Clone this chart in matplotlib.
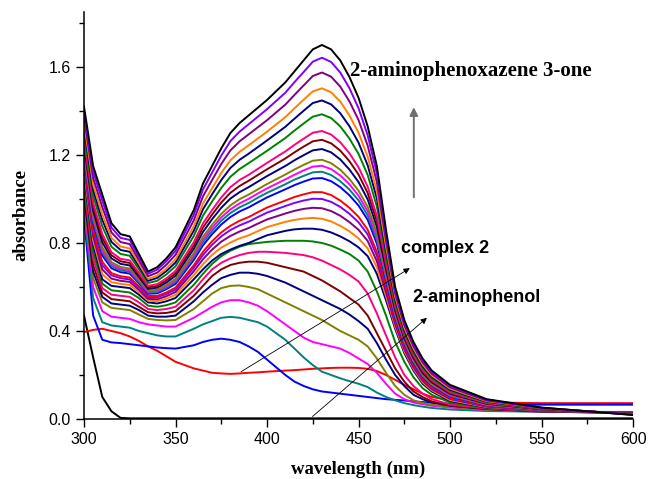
import matplotlib
matplotlib.use("Agg")
import matplotlib.pyplot as plt
from matplotlib.ticker import MultipleLocator

# wavelength grid (nm) shared by every scan
wl = [300, 305, 310, 315, 320, 325, 330, 335, 340, 345,
      350, 360, 365, 370, 375, 380, 385, 390, 395, 400,
      410, 415, 420, 425, 430, 435, 440, 445, 450,
      455, 460, 465, 470, 475, 480, 485,
      490, 500, 520, 550, 600]

# absorbance, bottom scan first
aminophenol = [0.47, 0.28, 0.10, 0.035, 0.005] + [0.003] * 36
complex2 = [0.395, 0.405, 0.41, 0.40, 0.39, 0.375, 0.355, 0.33, 0.31, 0.285,
            0.26, 0.23, 0.22, 0.21, 0.207, 0.205, 0.207, 0.21, 0.212, 0.215,
            0.22, 0.222, 0.225, 0.228, 0.23, 0.232, 0.233, 0.233, 0.232,
            0.228, 0.218, 0.20, 0.178, 0.155, 0.135, 0.115,
            0.10, 0.085, 0.075, 0.072, 0.072]
s03 = [0.92, 0.47, 0.36, 0.348, 0.345, 0.34, 0.335, 0.33, 0.325, 0.322,
       0.32, 0.335, 0.35, 0.36, 0.365, 0.36, 0.35, 0.33, 0.305, 0.27,
       0.20, 0.17, 0.15, 0.135, 0.125, 0.12, 0.115, 0.11, 0.105,
       0.10, 0.095, 0.09, 0.087, 0.084, 0.08, 0.077,
       0.074, 0.069, 0.065, 0.065, 0.065]
s04 = [0.95, 0.55, 0.44, 0.425, 0.42, 0.415, 0.40, 0.39, 0.38, 0.375,
       0.375, 0.41, 0.43, 0.445, 0.46, 0.464, 0.46, 0.45, 0.44, 0.42,
       0.36, 0.32, 0.28, 0.245, 0.215, 0.20, 0.185, 0.172, 0.16,
       0.145, 0.12, 0.10, 0.085, 0.072, 0.063, 0.056,
       0.05, 0.043, 0.036, 0.033, 0.032]
s05 = [0.98, 0.60, 0.49, 0.465, 0.46, 0.455, 0.44, 0.43, 0.425, 0.42,
       0.42, 0.46, 0.485, 0.51, 0.53, 0.54, 0.54, 0.53, 0.515, 0.49,
       0.43, 0.40, 0.37, 0.35, 0.34, 0.33, 0.32, 0.30, 0.275,
       0.25, 0.21, 0.16, 0.115, 0.09, 0.075, 0.067,
       0.06, 0.052, 0.04, 0.033, 0.028]
s06 = [1.00, 0.64, 0.53, 0.505, 0.50, 0.495, 0.475, 0.455, 0.45, 0.448,
       0.45, 0.50, 0.535, 0.57, 0.595, 0.605, 0.607, 0.60, 0.59, 0.57,
       0.53, 0.51, 0.49, 0.47, 0.45, 0.425, 0.40, 0.38, 0.36,
       0.33, 0.275, 0.21, 0.15, 0.11, 0.085, 0.073,
       0.065, 0.055, 0.042, 0.033, 0.028]
s07 = [1.02, 0.67, 0.555, 0.525, 0.52, 0.515, 0.495, 0.47, 0.465, 0.465,
       0.47, 0.535, 0.575, 0.61, 0.64, 0.655, 0.665, 0.665, 0.66, 0.65,
       0.62, 0.60, 0.58, 0.56, 0.54, 0.52, 0.50, 0.475, 0.445,
       0.41, 0.345, 0.27, 0.20, 0.15, 0.11, 0.09,
       0.075, 0.06, 0.045, 0.034, 0.027]
s08 = [1.04, 0.70, 0.575, 0.545, 0.54, 0.535, 0.51, 0.485, 0.48, 0.482,
       0.49, 0.56, 0.605, 0.65, 0.68, 0.70, 0.71, 0.715, 0.715, 0.71,
       0.69, 0.68, 0.67, 0.65, 0.63, 0.605, 0.58, 0.55, 0.52,
       0.47, 0.39, 0.31, 0.23, 0.17, 0.125, 0.10,
       0.08, 0.062, 0.046, 0.035, 0.027]
s09 = [1.06, 0.73, 0.595, 0.565, 0.56, 0.555, 0.53, 0.50, 0.495, 0.50,
       0.51, 0.585, 0.635, 0.68, 0.71, 0.73, 0.745, 0.755, 0.76, 0.76,
       0.755, 0.75, 0.745, 0.735, 0.72, 0.70, 0.68, 0.655, 0.625,
       0.57, 0.48, 0.38, 0.28, 0.20, 0.15, 0.115,
       0.09, 0.066, 0.048, 0.036, 0.028]
s10 = [1.09, 0.76, 0.615, 0.585, 0.58, 0.575, 0.55, 0.515, 0.51, 0.517,
       0.53, 0.61, 0.66, 0.705, 0.74, 0.765, 0.783, 0.795, 0.80, 0.805,
       0.81, 0.81, 0.81, 0.807, 0.80, 0.788, 0.77, 0.75, 0.72,
       0.67, 0.58, 0.47, 0.35, 0.26, 0.19, 0.14,
       0.11, 0.075, 0.05, 0.037, 0.028]
s11 = [1.11, 0.79, 0.635, 0.605, 0.60, 0.595, 0.565, 0.53, 0.525, 0.535,
       0.55, 0.635, 0.68, 0.72, 0.75, 0.77, 0.787, 0.80, 0.818, 0.835,
       0.855, 0.862, 0.865, 0.865, 0.86, 0.848, 0.83, 0.808, 0.78,
       0.74, 0.66, 0.54, 0.41, 0.30, 0.22, 0.16,
       0.125, 0.082, 0.052, 0.038, 0.028]
s12 = [1.129, 0.812, 0.658, 0.622, 0.614, 0.609, 0.576, 0.538, 0.535, 0.547,
       0.564, 0.654, 0.703, 0.746, 0.779, 0.802, 0.821, 0.835, 0.854, 0.872,
       0.896, 0.905, 0.911, 0.914, 0.910, 0.898, 0.878, 0.853, 0.821,
       0.775, 0.689, 0.559, 0.421, 0.309, 0.228, 0.167,
       0.131, 0.086, 0.054, 0.039, 0.027]
s13 = [1.146, 0.832, 0.680, 0.638, 0.628, 0.623, 0.587, 0.546, 0.544, 0.558,
       0.577, 0.672, 0.726, 0.770, 0.806, 0.832, 0.852, 0.868, 0.888, 0.907,
       0.934, 0.946, 0.955, 0.960, 0.958, 0.945, 0.924, 0.895, 0.860,
       0.809, 0.717, 0.577, 0.432, 0.318, 0.235, 0.174,
       0.136, 0.091, 0.056, 0.040, 0.027]
s14 = [1.162, 0.850, 0.699, 0.653, 0.640, 0.634, 0.596, 0.553, 0.553, 0.568,
       0.588, 0.688, 0.745, 0.792, 0.830, 0.859, 0.880, 0.897, 0.918, 0.938,
       0.968, 0.982, 0.993, 1.001, 1.000, 0.987, 0.964, 0.933, 0.894,
       0.839, 0.742, 0.593, 0.442, 0.325, 0.242, 0.179,
       0.141, 0.094, 0.058, 0.040, 0.026]
s15 = [1.173, 0.863, 0.714, 0.663, 0.649, 0.643, 0.603, 0.559, 0.559, 0.575,
       0.597, 0.699, 0.760, 0.808, 0.848, 0.878, 0.901, 0.918, 0.940, 0.961,
       0.993, 1.009, 1.021, 1.031, 1.031, 1.018, 0.993, 0.960, 0.919,
       0.860, 0.760, 0.605, 0.449, 0.331, 0.247, 0.184,
       0.144, 0.097, 0.060, 0.041, 0.026]
s16 = [1.197, 0.891, 0.743, 0.685, 0.667, 0.661, 0.617, 0.569, 0.571, 0.590,
       0.614, 0.723, 0.789, 0.840, 0.884, 0.918, 0.943, 0.962, 0.985, 1.007,
       1.044, 1.063, 1.079, 1.093, 1.095, 1.081, 1.054, 1.017, 0.970,
       0.905, 0.797, 0.630, 0.463, 0.342, 0.256, 0.192,
       0.152, 0.102, 0.063, 0.042, 0.025]
s17 = [1.207, 0.903, 0.756, 0.695, 0.675, 0.669, 0.623, 0.574, 0.577, 0.596,
       0.622, 0.734, 0.803, 0.855, 0.901, 0.936, 0.962, 0.982, 1.006, 1.028,
       1.067, 1.088, 1.105, 1.121, 1.124, 1.109, 1.081, 1.043, 0.994,
       0.925, 0.814, 0.641, 0.470, 0.347, 0.261, 0.196,
       0.155, 0.105, 0.064, 0.042, 0.025]
s18 = [1.217, 0.915, 0.768, 0.704, 0.683, 0.676, 0.629, 0.578, 0.582, 0.603,
       0.630, 0.744, 0.815, 0.869, 0.916, 0.953, 0.980, 1.001, 1.025, 1.048,
       1.089, 1.110, 1.130, 1.147, 1.151, 1.136, 1.107, 1.067, 1.015,
       0.944, 0.830, 0.651, 0.476, 0.352, 0.265, 0.200,
       0.158, 0.107, 0.065, 0.043, 0.025]
s19 = [1.228, 0.926, 0.781, 0.713, 0.691, 0.684, 0.635, 0.583, 0.588, 0.609,
       0.637, 0.754, 0.828, 0.883, 0.932, 0.971, 0.999, 1.020, 1.044, 1.068,
       1.111, 1.134, 1.155, 1.174, 1.178, 1.163, 1.133, 1.091, 1.038,
       0.964, 0.846, 0.661, 0.482, 0.357, 0.269, 0.204,
       0.161, 0.110, 0.066, 0.043, 0.024]
s20 = [1.246, 0.947, 0.803, 0.730, 0.705, 0.698, 0.646, 0.591, 0.597, 0.620,
       0.651, 0.773, 0.850, 0.908, 0.960, 1.002, 1.031, 1.054, 1.079, 1.104,
       1.150, 1.176, 1.199, 1.221, 1.227, 1.212, 1.180, 1.134, 1.077,
       0.998, 0.874, 0.680, 0.493, 0.366, 0.277, 0.210,
       0.167, 0.114, 0.069, 0.044, 0.024]
s21 = [1.261, 0.965, 0.823, 0.744, 0.717, 0.709, 0.655, 0.598, 0.605, 0.630,
       0.662, 0.788, 0.870, 0.929, 0.984, 1.028, 1.059, 1.083, 1.109, 1.135,
       1.184, 1.212, 1.238, 1.262, 1.269, 1.253, 1.220, 1.172, 1.111,
       1.027, 0.899, 0.696, 0.503, 0.373, 0.283, 0.216,
       0.171, 0.118, 0.071, 0.045, 0.023]
s22 = [1.276, 0.983, 0.841, 0.758, 0.728, 0.721, 0.664, 0.605, 0.613, 0.639,
       0.673, 0.804, 0.889, 0.950, 1.007, 1.054, 1.086, 1.110, 1.137, 1.164,
       1.216, 1.246, 1.274, 1.301, 1.309, 1.293, 1.258, 1.208, 1.144,
       1.056, 0.922, 0.711, 0.512, 0.380, 0.290, 0.222,
       0.176, 0.121, 0.072, 0.046, 0.023]
s23 = [1.304, 1.015, 0.876, 0.783, 0.750, 0.742, 0.681, 0.618, 0.628, 0.657,
       0.694, 0.832, 0.924, 0.989, 1.050, 1.101, 1.136, 1.163, 1.191, 1.219,
       1.277, 1.311, 1.343, 1.374, 1.385, 1.368, 1.330, 1.275, 1.205,
       1.109, 0.966, 0.740, 0.529, 0.394, 0.301, 0.232,
       0.184, 0.128, 0.076, 0.047, 0.022]
s24 = [1.327, 1.042, 0.905, 0.805, 0.768, 0.760, 0.695, 0.628, 0.641, 0.672,
       0.711, 0.856, 0.953, 1.021, 1.086, 1.141, 1.178, 1.206, 1.236, 1.266,
       1.328, 1.365, 1.401, 1.436, 1.448, 1.430, 1.390, 1.331, 1.256,
       1.153, 1.003, 0.764, 0.543, 0.405, 0.311, 0.241,
       0.192, 0.133, 0.079, 0.048, 0.021]
s25 = [1.348, 1.066, 0.930, 0.823, 0.784, 0.775, 0.707, 0.637, 0.651, 0.684,
       0.726, 0.876, 0.979, 1.049, 1.118, 1.176, 1.214, 1.244, 1.275, 1.306,
       1.372, 1.412, 1.451, 1.489, 1.503, 1.485, 1.443, 1.380, 1.301,
       1.192, 1.035, 0.785, 0.556, 0.415, 0.320, 0.248,
       0.198, 0.138, 0.081, 0.049, 0.020]
s26 = [1.374, 1.096, 0.963, 0.848, 0.804, 0.795, 0.722, 0.649, 0.665, 0.701,
       0.746, 0.903, 1.012, 1.086, 1.159, 1.221, 1.262, 1.294, 1.326, 1.358,
       1.429, 1.473, 1.516, 1.559, 1.575, 1.556, 1.511, 1.444, 1.359,
       1.242, 1.077, 0.812, 0.572, 0.428, 0.331, 0.258,
       0.206, 0.144, 0.084, 0.050, 0.020]
s27 = [1.399, 1.125, 0.993, 0.870, 0.823, 0.814, 0.737, 0.660, 0.679, 0.717,
       0.764, 0.928, 1.043, 1.120, 1.197, 1.263, 1.306, 1.340, 1.374, 1.408,
       1.483, 1.531, 1.577, 1.624, 1.642, 1.623, 1.575, 1.504, 1.413,
       1.289, 1.116, 0.838, 0.587, 0.440, 0.341, 0.267,
       0.213, 0.150, 0.088, 0.051, 0.019]
phenoxazinone = [1.42, 1.15, 1.02, 0.89, 0.84, 0.83, 0.75, 0.67, 0.69, 0.73,
                 0.78, 0.95, 1.07, 1.15, 1.23, 1.30, 1.345, 1.38, 1.415, 1.45,
                 1.53, 1.58, 1.63, 1.68, 1.70, 1.68, 1.63, 1.555, 1.46,
                 1.33, 1.15, 0.86, 0.60, 0.45, 0.35, 0.275,
                 0.22, 0.155, 0.09, 0.052, 0.018]

scans = [aminophenol, complex2, s03, s04, s05, s06, s07, s08, s09, s10, s11, s12, s13, s14,
         s15, s16, s17, s18, s19, s20, s21, s22, s23, s24, s25, s26, s27, phenoxazinone]

# Origin-style colour cycle
cycle = ["#FF0000", "#0000FF", "#008080", "#FF00FF", "#808000", "#000080", "#800000",
         "#FF0080", "#008000", "#000080", "#FF8000", "#800080", "#8000FF"]
colors = ["#000000"] + cycle + cycle + ["#000000"]

fig = plt.figure(figsize=(6.48, 4.79), dpi=100)
ax = fig.add_axes([0.1296, 0.1253, 0.8474, 0.8497])

for y, c in zip(scans, colors):
    ax.plot(wl, y, color=c, lw=1.4, solid_joinstyle="round")

ax.set_xlim(300, 600)
ax.set_ylim(0, 1.85)
ax.xaxis.set_major_locator(MultipleLocator(50))
ax.xaxis.set_minor_locator(MultipleLocator(25))
ax.yaxis.set_major_locator(MultipleLocator(0.4))
ax.yaxis.set_minor_locator(MultipleLocator(0.2))
ax.yaxis.set_major_formatter(plt.FuncFormatter(lambda v, p: f"{v:.1f}"))
for s in ("top", "right"):
    ax.spines[s].set_visible(False)
for s in ("left", "bottom"):
    ax.spines[s].set_linewidth(1.1)
ax.tick_params(which="major", direction="out", length=6, width=1, labelsize=11.5)
ax.tick_params(which="minor", direction="out", length=3.5, width=1)
for lab in ax.get_xticklabels() + ax.get_yticklabels():
    lab.set_family("Liberation Sans")

ax.set_xlabel("wavelength (nm)", family="Liberation Serif", weight="bold", fontsize=13.5)
ax.set_ylabel("absorbance", family="Liberation Serif", weight="bold", fontsize=13.5)
ax.xaxis.set_label_coords(0.5, -0.102)
ax.yaxis.set_label_coords(-0.10, 0.5)

ax.text(445.6, 1.58, "2-aminophenoxazene 3-one", family="Liberation Serif", weight="bold",
        fontsize=15, va="center")
ax.text(473, 0.777, "complex 2", family="Liberation Sans", weight="bold", fontsize=13, va="center")
ax.text(479.5, 0.55, "2-aminophenol", family="Liberation Sans", weight="bold", fontsize=13, va="center")

ax.annotate("", xy=(480.2, 1.43), xytext=(480.2, 0.995),
            arrowprops=dict(arrowstyle="-|>", color="#707070", lw=1.4, mutation_scale=12))
ax.annotate("", xy=(479.3, 0.692), xytext=(384.5, 0.208),
            arrowprops=dict(arrowstyle="-|>", color="black", lw=0.6, mutation_scale=9))
ax.annotate("", xy=(488.5, 0.468), xytext=(423.7, 0.003),
            arrowprops=dict(arrowstyle="-|>", color="black", lw=0.6, mutation_scale=9))

fig.savefig("out.png", dpi=100)
